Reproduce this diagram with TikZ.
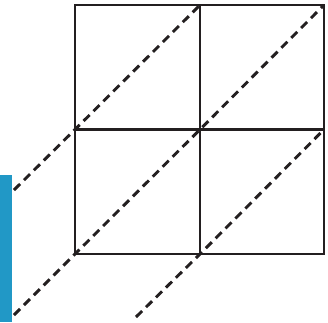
\documentclass[tikz,border=0pt]{standalone}
\usepackage{tikz}
\usetikzlibrary{calc}
\definecolor{mydark}{RGB}{35,31,32}
\definecolor{myblue}{RGB}{33,152,198}
\tikzset{
  gridline/.style={draw=mydark, line width=2.7pt},
  diagline/.style={draw=mydark, line width=2.9pt, dash pattern=on 8.5pt off 5.5pt},
  bar/.style={fill=myblue, draw=none}
}
\begin{document}
\begin{tikzpicture}[x=1pt, y=-1pt]
  \useasboundingbox (0,0) rectangle (328,322);

  % grid corners
  \coordinate (tl) at (75,5);
  \coordinate (tm) at (200,5);
  \coordinate (tr) at (324,5);
  \coordinate (ml) at (75,129.5);
  \coordinate (mm) at (200,129.5);
  \coordinate (mr) at (324,129.5);
  \coordinate (bl) at (75,254);
  \coordinate (bm) at (200,254);
  \coordinate (br) at (324,254);

  % free ends of the dashed lines
  \coordinate (e1) at (14,190);
  \coordinate (e2) at (14,315);
  \coordinate (e3) at (136,317);

  \fill [bar] (0,175) rectangle (11.5,322);

  \draw [gridline] (tl) rectangle (br);
  \draw [gridline] (tm) -- (bm);
  \draw [gridline] (ml) -- (mr);

  \draw [diagline] (e1) -- (ml) -- (tm);
  \draw [diagline] (e2) -- (bl) -- (mm) -- (tr);
  \draw [diagline] (e3) -- (bm) -- (mr);
\end{tikzpicture}
\end{document}
